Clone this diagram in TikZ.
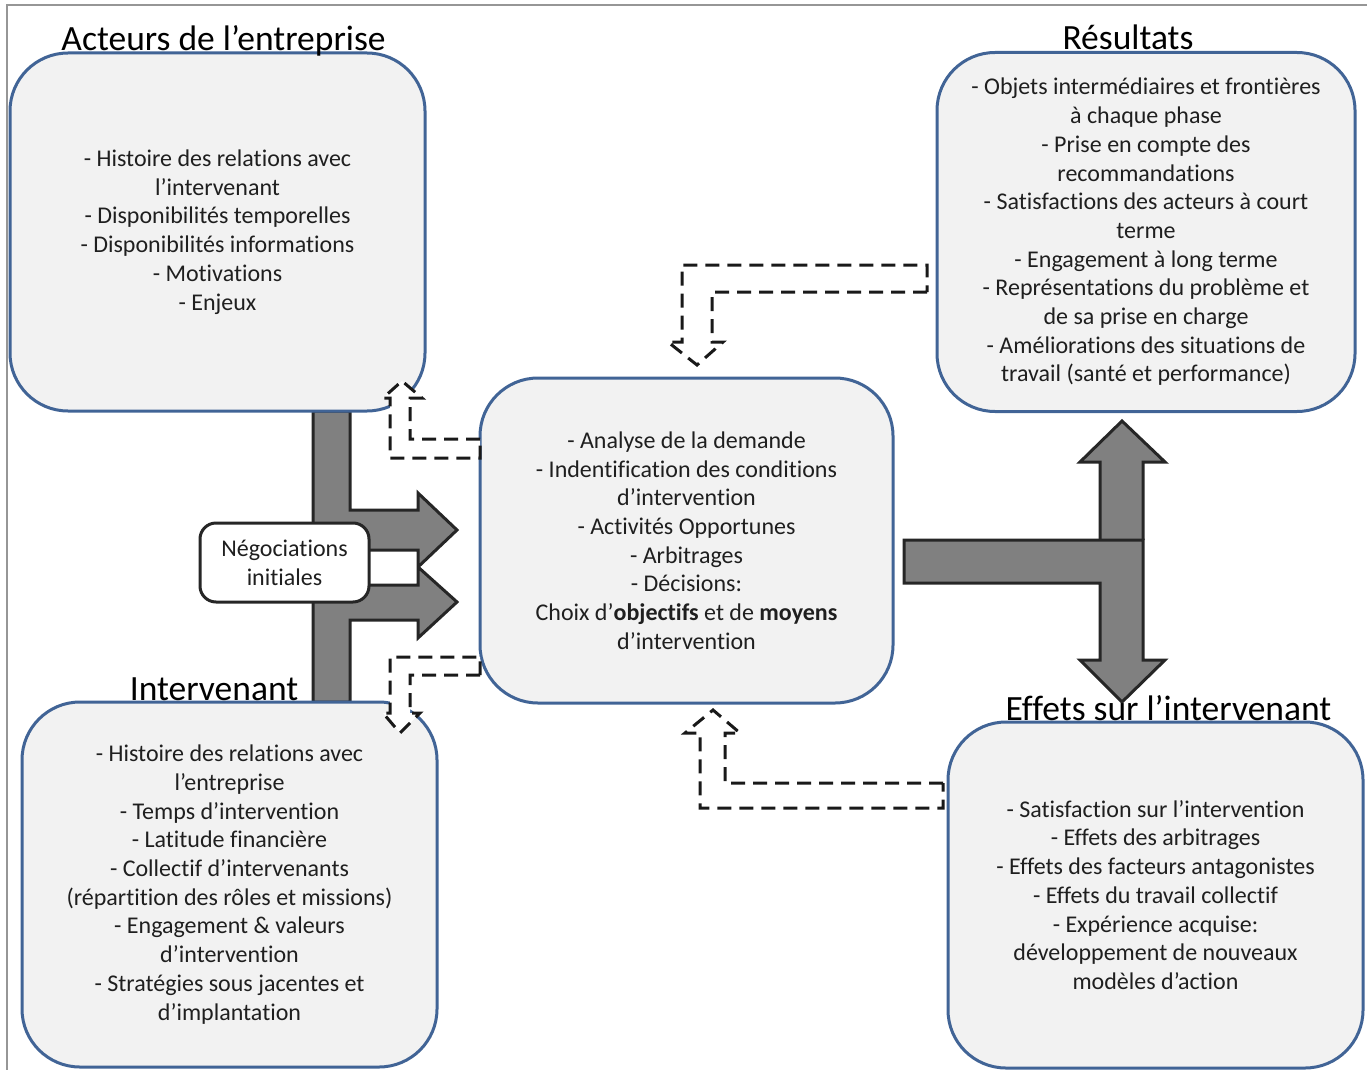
\documentclass[tikz,border=0pt]{standalone}
\usepackage{fontspec}
\setmainfont{Carlito}[Ligatures={NoCommon}]
\usetikzlibrary{positioning}
\definecolor{bordbleu}{RGB}{65,100,150}
\definecolor{fondgris}{RGB}{242,242,242}
\definecolor{flechegris}{RGB}{128,128,128}
\definecolor{cadregris}{RGB}{150,150,150}
\newcommand{\corpsfont}{\fontsize{24}{28.7}\selectfont}
\newcommand{\titrefont}{\fontsize{35.5}{40}\selectfont}
\tikzset{
  bloc/.style={draw=bordbleu, line width=3pt, fill=fondgris, rounded corners=58pt, align=center, text=black!88, font=\corpsfont},
  titre/.style={font=\titrefont, inner sep=0pt, anchor=base},
  fleche/.style={draw=black!85, line width=3pt, fill=flechegris, line join=miter},
  pointille/.style={draw=black!90, fill=white, line width=3pt, dash pattern=on 14pt off 8pt},
}
\begin{document}
\begin{tikzpicture}[x=1pt,y=-1pt]
		\useasboundingbox (0,0) rectangle (1367,1070);
		%Cadre
		\draw[cadregris, line width=2.5pt] (7,1070) -- (7,5) -- (1367,5);
		%Fleches pleines
		\draw[fleche] (313,411) -- (350,411) -- (350,510) -- (418,510) -- (418,493) -- (457,530) -- (418,567) -- (418,550) -- (350,550) -- (350,585) -- (418,585) -- (418,567) -- (457,602) -- (418,638) -- (418,620) -- (350,620) -- (350,702) -- (313,702) -- cycle;
		\draw[fleche] (1100,540) -- (1100,462) -- (1080,462) -- (1122,421) -- (1165,462) -- (1143,462) -- (1143,540);
		\draw[fleche] (904,540) -- (1143,540) -- (1143,660) -- (1165,660) -- (1122,702) -- (1080,660) -- (1100,660) -- (1100,583) -- (904,583) -- cycle;
		%Blocs
		\node[bloc, minimum width=415pt, minimum height=358pt] (acteurs) at (217.5,232) {- Histoire des relations avec\\ l’intervenant\\ - Disponibilités temporelles\\ - Disponibilités informations\\ - Motivations\\ - Enjeux};
		\node[bloc, minimum width=418pt, minimum height=359pt] (resultats) at (1146,232) {- Objets intermédiaires et frontières\\ à chaque phase\\ - Prise en compte des\\ recommandations\\ - Satisfactions des acteurs à court\\ terme\\ - Engagement à long terme\\ - Représentations du problème et\\ de sa prise en charge\\ - Améliorations des situations de\\ travail (santé et performance)};
		\node[bloc, minimum width=413pt, minimum height=325pt] (centre) at (686.5,540.5) {- Analyse de la demande\\ - Indentification des conditions\\ d’intervention\\ - Activités Opportunes\\ - Arbitrages\\ - Décisions:\\ Choix d’\textbf{objectifs} et de \textbf{moyens}\\ d’intervention};
		\node[bloc, minimum width=415pt, minimum height=365pt] (intervenant) at (229.5,884.5) {- Histoire des relations avec\\ l’entreprise\\ - Temps d’intervention\\ - Latitude financière\\ - Collectif d’intervenants\\ (répartition des rôles et missions)\\ - Engagement \& valeurs\\ d’intervention\\ - Stratégies sous jacentes et\\ d’implantation};
		\node[bloc, minimum width=415pt, minimum height=346pt] (effets) at (1155.5,895) {- Satisfaction sur l’intervention\\ - Effets des arbitrages\\ - Effets des facteurs antagonistes\\ - Effets du travail collectif\\ - Expérience acquise:\\ développement de nouveaux\\ modèles d’action};
		\node[draw=black!85, line width=3pt, fill=white, rounded corners=16pt, minimum width=169pt, minimum height=79pt, align=center, text=black!88, font=\corpsfont] (nego) at (284.5,562.5) {Négociations\\ initiales};
		%Titres
		\node[titre] (tacteurs) at (223.5,51) {Acteurs de l’entreprise};
		\node[titre] (tresultats) at (1128,50) {Résultats};
		\node[titre] (tintervenant) at (214,700) {Intervenant};
		\node[titre] (teffets) at (1168.5,720) {Effets sur l’intervenant};
		%Fleches pointillees
		\draw[pointille] (927,292) -- (712,292) -- (712,342) -- (723,342) -- (697,365) -- (668,342) -- (682,342) -- (682,265) -- (927,265) -- cycle;
		\draw[pointille] (943,783) -- (725,783) -- (725,733) -- (740,733) -- (713,710) -- (685,733) -- (700,733) -- (700,808) -- (943,808) -- cycle;
		\draw[pointille] (480,439) -- (410,439) -- (410,398) -- (422,398) -- (402,381) -- (383,398) -- (390,398) -- (390,458) -- (480,458) -- cycle;
		\draw[pointille] (480,675) -- (410,675) -- (410,713) -- (420,713) -- (400,733) -- (383,713) -- (390,713) -- (390,657) -- (480,657) -- cycle;
\end{tikzpicture}
\end{document}
